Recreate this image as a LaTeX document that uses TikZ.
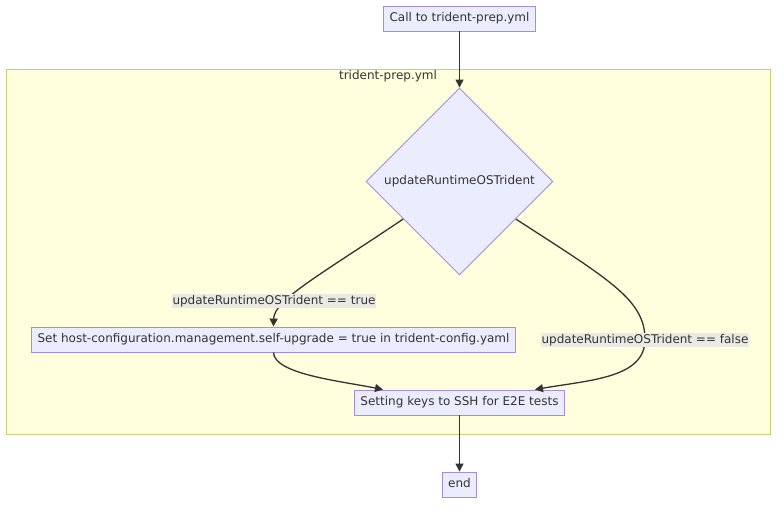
\documentclass[tikz,border=0pt]{standalone}
\usepackage{fontspec}
\setmainfont{DejaVu Sans}
\usetikzlibrary{shapes.geometric,arrows.meta,calc}
\definecolor{nodefill}{HTML}{ECECFF}
\definecolor{nodedraw}{HTML}{A68BE0}
\definecolor{clusterfill}{HTML}{FFFFDE}
\definecolor{clusterdraw}{HTML}{CCCC7A}
\definecolor{ink}{HTML}{333333}
\definecolor{labelbg}{HTML}{EAEAE4}
\tikzset{
  base/.style={font=\fontsize{12}{14}\selectfont, text=ink},
  box/.style={base, draw=nodedraw, fill=nodefill, line width=0.9pt, rectangle,
    inner xsep=6pt, inner ysep=0pt, text height=9pt, text depth=3pt, minimum height=25pt},
  decision/.style={base, draw=nodedraw, fill=nodefill, line width=0.9pt, diamond,
    aspect=1, inner sep=0pt, minimum width=187pt, minimum height=187pt},
  edgelabel/.style={base, fill=labelbg, inner xsep=0.5pt, inner ysep=0pt,
    text height=10.5pt, text depth=3.5pt},
  conn/.style={draw=ink, line width=1.3pt, -{Triangle[length=8pt,width=8pt]}},
}
\begin{document}
\begin{tikzpicture}[x=1pt,y=-1pt]
\useasboundingbox (0,0) rectangle (784,509);
% cluster
\node[draw=clusterdraw, fill=clusterfill, line width=1pt, rectangle, inner sep=0pt,
  minimum width=764pt, minimum height=365pt] (cluster) at (388,251.5) {};
\node[base] (clabel) at (388,76) {trident-prep.yml};
% nodes
\node[box] (call) at (459.5,18.5) {Call to trident-prep.yml};
\node[decision] (d) at (459.5,181.5) {updateRuntimeOSTrident};
\node[box] (set) at (273.5,339.5) {Set host-configuration.management.self-upgrade = true in trident-config.yaml};
\node[box] (keys) at (459.5,402.5) {Setting keys to SSH for E2E tests};
\node[box] (end) at (459.5,484.5) {end};
% edge anchor points
\coordinate (dl) at ($(d.west)!0.4!(d.south)$);
\coordinate (dr) at ($(d.east)!0.4!(d.south)$);
\coordinate (kl) at ($(keys.north)+(-76.5,0)$);
\coordinate (kr) at ($(keys.north)+(75.5,0)$);
% connectors
\draw[conn] (call) -- (d.north);
\draw[conn] (dl) .. controls (320,275) and (274,300) .. (set.north);
\draw[conn] (dr) .. controls (610,280) and (645,300) .. (645,339.5)
   .. controls (645,378) and (590,380) .. (kr);
\draw[conn] (set.south) .. controls (274,374) and (340,381) .. (kl);
\draw[conn] (keys) -- (end);
% edge labels
\node[edgelabel] (lt) at (274,300.5) {updateRuntimeOSTrident == true};
\node[edgelabel] (lf) at (645,339.5) {updateRuntimeOSTrident == false};
\end{tikzpicture}
\end{document}
